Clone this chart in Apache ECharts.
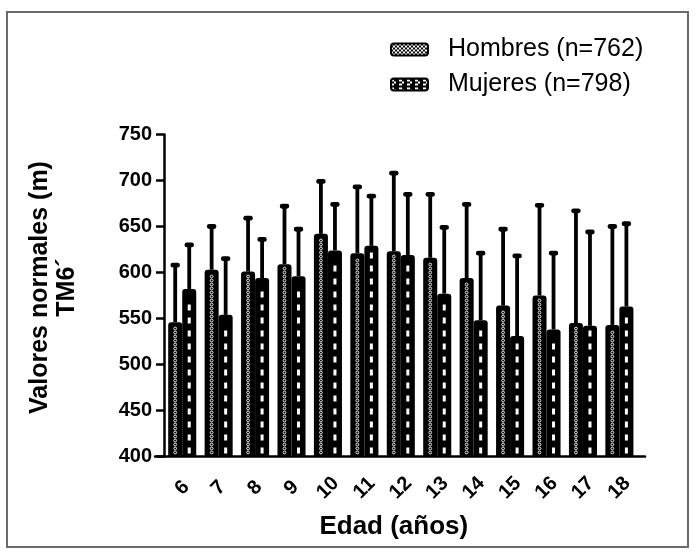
<!DOCTYPE html>
<html>
<head>
<meta charset="utf-8">
<script src="https://cdn.jsdelivr.net/npm/echarts@6/dist/echarts.min.js"></script>
<style>
html,body{margin:0;padding:0;background:#fff;}
#chart{width:695px;height:554px;}
</style>
</head>
<body>
<div id="chart"></div>
<script>
// ---- data ----
const ages = ['6','7','8','9','10','11','12','13','14','15','16','17','18'];
const hombresMean = [546, 603, 601, 609, 642, 621, 623, 616, 594, 564, 575, 545, 543];
const hombresSD   = [62, 47, 58, 63, 57, 72, 85, 69, 80, 83, 98, 122, 107];
const mujeresMean = [582, 554, 594, 596, 624, 629, 619, 577, 548, 531, 538, 542, 563];
const mujeresSD   = [48, 61, 42, 51, 50, 54, 66, 72, 73, 87, 83, 102, 90];
const yTicks = [400, 450, 500, 550, 600, 650, 700, 750];
const seriesNames = ['Hombres (n=762)', 'Mujeres (n=798)'];

const FONT = '"Liberation Sans", Arial, Helvetica, sans-serif';

function patternCanvas(kind) {
  const c = document.createElement('canvas');
  if (kind === 0) {
    c.width = 4; c.height = 4;
    const g = c.getContext('2d');
    g.fillStyle = '#000'; g.fillRect(0,0,4,4);
    g.fillStyle = '#fff'; g.fillRect(0,0,2,2); g.fillRect(2,2,2,2);
  } else {
    c.width = 8; c.height = 8;
    const g = c.getContext('2d');
    g.fillStyle = '#000'; g.fillRect(0,0,8,8);
    g.fillStyle = '#fff';
    g.fillRect(0,1,3,2); g.fillRect(0,5,3,2); g.fillRect(3,3,2,2);
  }
  return c;
}

function makeRender(side) {
  return function (params, api) {
    const idx = api.value(0), mean = api.value(1), sd = api.value(2);
    const base = api.coord([idx, 400]);
    const top = api.coord([idx, mean]);
    const cap = api.coord([idx, mean + sd]);
    const band = api.size([1, 0])[0];
    const bw = band * 0.385;
    const left = side === 0 ? top[0] - bw : top[0];
    const bx = left + bw / 2;
    const children = [
      {type:'line', shape:{x1:bx, y1:top[1], x2:bx, y2:cap[1]}, style:{stroke:'#000', lineWidth:3.8}},
      {type:'rect', shape:{x:bx-4.75, y:cap[1]-2.4, width:9.5, height:4.8, r:2.4}, style:{fill:'#000'}},
      {type:'rect', shape:{x:left, y:top[1], width:bw, height:base[1]-top[1], r:[3,3,0,0]}, style:{fill:'#000'}}
    ];
    if (side === 0) {
      for (let y = base[1] - 4; y > top[1] + 4; y -= 4) {
        children.push({type:'circle', shape:{cx:bx, cy:y, r:1.4}, style:{fill:null, stroke:'#fff', lineWidth:0.9}});
      }
    } else {
      for (let y = base[1] - 9; y > top[1] + 4; y -= 13) {
        children.push({type:'rect', shape:{x:bx-1.5, y:y, width:3, height:6}, style:{fill:'#fff'}});
      }
    }
    return {type:'group', children:children};
  };
}

const hData = ages.map((a, i) => [i, hombresMean[i], hombresSD[i]]);
const mData = ages.map((a, i) => [i, mujeresMean[i], mujeresSD[i]]);

const chart = echarts.init(document.getElementById('chart'), null, {renderer:'canvas'});
chart.setOption({
  animation: false,
  backgroundColor: '#fff',
  graphic: [{
    type:'rect', shape:{x:7, y:12, width:681, height:535},
    style:{fill:null, stroke:'#6a6a6a', lineWidth:2}, z:-10
  }],
  legend: {
    orient:'vertical', left:390, top:37, padding:0, itemWidth:37, itemHeight:12, itemGap:10,
    icon:'roundRect',
    formatter: n => '{a|' + n + '}',
    textStyle:{rich:{a:{fontFamily:FONT, fontSize:25, lineHeight:24, color:'#000', padding:[0,0,0,15]}}},
    data: [
      {name:seriesNames[0], itemStyle:{color:{image:patternCanvas(0), repeat:'repeat'}, borderColor:'#000', borderWidth:2}},
      {name:seriesNames[1], itemStyle:{color:{image:patternCanvas(1), repeat:'repeat'}, borderColor:'#000', borderWidth:2}}
    ]
  },
  grid: [
    {left:164, right:57.4, top:134.5, bottom:97.5},
    {left:155, right:50, top:134.5, bottom:97.5}
  ],
  xAxis: [{
    type:'category', data:ages, gridIndex:0,
    name:'Edad (años)', nameLocation:'middle', nameGap:57,
    nameTextStyle:{fontFamily:FONT, fontSize:26, fontWeight:'bold', color:'#000', padding:[0,14,0,0]},
    axisLine:{show:false},
    axisTick:{alignWithLabel:true, length:8, lineStyle:{color:'#000', width:2.5}},
    axisLabel:{rotate:45, interval:0, margin:31.5, align:'center', verticalAlign:'middle',
               fontFamily:FONT, fontSize:20, fontWeight:'bold', color:'#000'},
    splitLine:{show:false}
  }, {
    type:'value', gridIndex:1, min:0, max:1,
    axisLine:{show:true, lineStyle:{color:'#000', width:2.5}},
    axisTick:{show:false}, axisLabel:{show:false}, splitLine:{show:false}
  }],
  yAxis: [{
    type:'value', gridIndex:0, min:yTicks[0], max:yTicks[yTicks.length-1], interval:50,
    name:'Valores normales (m)\nTM6´', nameLocation:'middle', nameGap:83, nameRotate:90,
    nameTextStyle:{fontFamily:FONT, fontSize:25, fontWeight:'bold', color:'#000', lineHeight:27, padding:[0,0,0,16]},
    axisLine:{show:true, lineStyle:{color:'#000', width:2.5}},
    axisTick:{show:true, length:8, lineStyle:{color:'#000', width:2.5}},
    axisLabel:{margin:12, fontFamily:FONT, fontSize:20, fontWeight:'bold', color:'#000'},
    splitLine:{show:false}
  }, {
    type:'value', gridIndex:1, min:400, max:750, show:false
  }],
  series: [
    {name:seriesNames[0], type:'custom', xAxisIndex:0, yAxisIndex:0, data:hData,
     encode:{x:0, y:1}, renderItem:makeRender(0), itemStyle:{color:'#000'}},
    {name:seriesNames[1], type:'custom', xAxisIndex:0, yAxisIndex:0, data:mData,
     encode:{x:0, y:1}, renderItem:makeRender(1), itemStyle:{color:'#000'}}
  ]
});
</script>
</body>
</html>
